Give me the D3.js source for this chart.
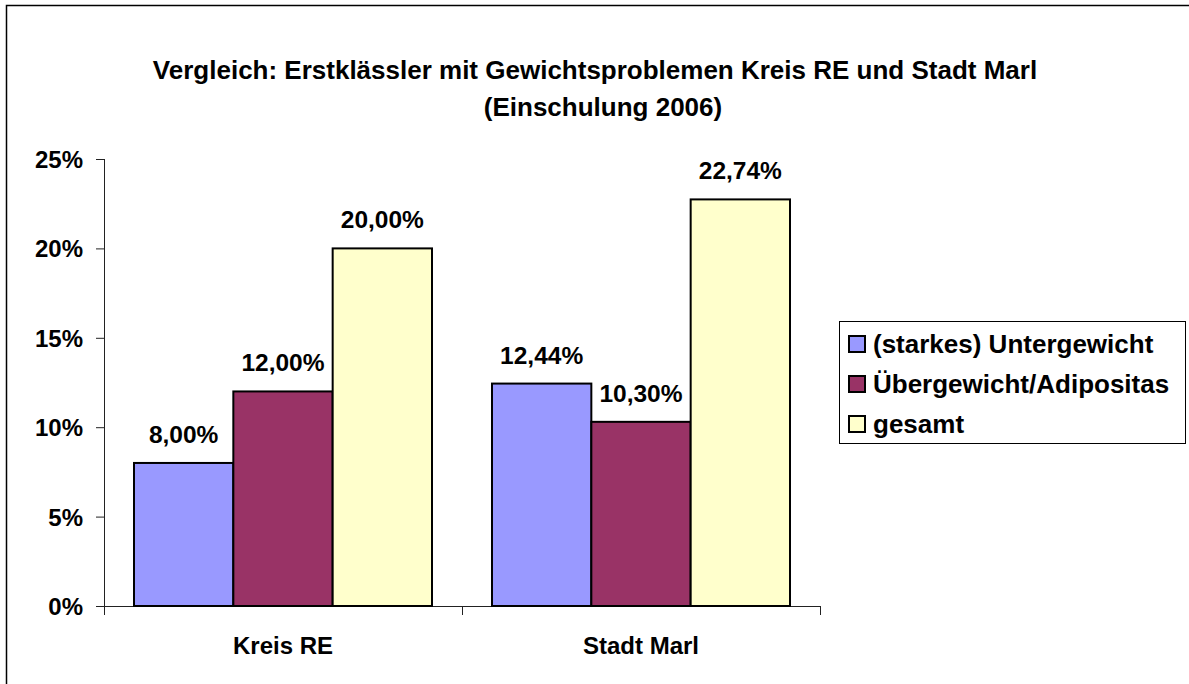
<!DOCTYPE html>
<html><head><meta charset="utf-8">
<script src="https://cdn.jsdelivr.net/npm/d3@7"></script>
<style>
html,body{margin:0;padding:0;background:#fff;}
svg text{font-family:"Liberation Sans",Arial,sans-serif;font-weight:bold;fill:#000;}
</style></head>
<body>
<svg id="chart" width="1189" height="684"></svg>
<script>
const titleLines = ["Vergleich: Erstklässler mit Gewichtsproblemen Kreis RE und Stadt Marl", "(Einschulung 2006)"];
const categories = ["Kreis RE", "Stadt Marl"];
const seriesNames = ["(starkes) Untergewicht", "Übergewicht/Adipositas", "gesamt"];
const seriesColors = ["#9999FF", "#993366", "#FFFFCC"];
const untergewicht = [0.08, 0.1244];
const uebergewicht = [0.12, 0.103];
const gesamt = [0.20, 0.2274];
const yTicks = [0, 0.05, 0.10, 0.15, 0.20, 0.25];

const seriesValues = [untergewicht, uebergewicht, gesamt];
const svg = d3.select("#chart");
const de = d3.formatLocale({decimal: ",", thousands: ".", grouping: [3], currency: ["", " €"]});
const fmtLabel = de.format(".2%");
const fmtTick = de.format(".0%");

// outer border (top + left visible)
svg.append("path").attr("d", "M6.5,684 L6.5,5.5 L1189,5.5").attr("fill", "none").attr("stroke", "#000").attr("stroke-width", 1.5);

// title
svg.append("text").attr("x", 595).attr("y", 79).attr("text-anchor", "middle").style("font-size", "26px").text(titleLines[0]);
svg.append("text").attr("x", 603).attr("y", 116).attr("text-anchor", "middle").style("font-size", "26px").text(titleLines[1]);

const plotL = 104, plotR = 820, plotT = 159, plotB = 606;
const y = d3.scaleLinear().domain([0, 0.25]).range([plotB, plotT]);
const x0 = d3.scaleBand().domain(categories).range([plotL, plotR]).padding(0);
const groupPad = 30;
const x1 = d3.scaleBand().domain(seriesNames).range([groupPad, x0.bandwidth() - groupPad]).padding(0);

// y axis
const yAxis = svg.append("g").attr("transform", `translate(${plotL},0)`)
  .call(d3.axisLeft(y).tickValues(yTicks).tickFormat(fmtTick).tickSize(8).tickPadding(13));
yAxis.select(".domain").attr("stroke", "#222").attr("d", `M0.5,${plotT}V${plotB}`);
yAxis.selectAll(".tick line").attr("stroke", "#222");
yAxis.selectAll("text").style("font-size", "24px").attr("font-family", null).attr("dy", "0.35em");

// x axis
const xg = svg.append("g").attr("transform", `translate(0,${plotB})`);
xg.append("line").attr("x1", plotL - 8).attr("x2", plotR).attr("y1", 0.5).attr("y2", 0.5).attr("stroke", "#222");
const xTickPos = [plotL].concat(categories.map(c => x0(c) + x0.bandwidth()));
xg.selectAll("line.xt").data(xTickPos).join("line").attr("class", "xt")
  .attr("x1", d => Math.round(d) + 0.5).attr("x2", d => Math.round(d) + 0.5).attr("y1", 0).attr("y2", 9).attr("stroke", "#222");
xg.selectAll("text.cat").data(categories).join("text").attr("class", "cat")
  .attr("x", d => x0(d) + x0.bandwidth() / 2).attr("y", 48).attr("text-anchor", "middle").style("font-size", "24px").text(d => d);

// bars
const barData = [];
categories.forEach((c, ci) => seriesNames.forEach((s, si) => barData.push({c, s, si, v: seriesValues[si][ci]})));
svg.append("g").selectAll("rect").data(barData).join("rect")
  .attr("x", d => x0(d.c) + x1(d.s))
  .attr("y", d => y(d.v))
  .attr("width", x1.bandwidth())
  .attr("height", d => plotB - y(d.v))
  .attr("fill", d => seriesColors[d.si])
  .attr("stroke", "#000").attr("stroke-width", 2);

svg.append("g").selectAll("text").data(barData).join("text")
  .attr("x", d => x0(d.c) + x1(d.s) + x1.bandwidth() / 2)
  .attr("y", d => y(d.v) - 20)
  .attr("text-anchor", "middle").style("font-size", "24.5px")
  .text(d => fmtLabel(d.v));

// legend
const lg = svg.append("g");
lg.append("rect").attr("x", 839.5).attr("y", 321.5).attr("width", 346).attr("height", 122).attr("fill", "#fff").attr("stroke", "#000").attr("stroke-width", 1);
const rowY = [344, 384, 424];
const items = lg.selectAll("g.item").data(seriesNames).join("g").attr("class", "item");
items.append("rect").attr("x", 849).attr("y", (d, i) => rowY[i] - 8).attr("width", 16).attr("height", 16)
  .attr("fill", (d, i) => seriesColors[i]).attr("stroke", "#000").attr("stroke-width", 2);
items.append("text").attr("x", 873).attr("y", (d, i) => rowY[i]).attr("dy", "0.36em").style("font-size", "26px").text(d => d);
</script>
</body></html>
